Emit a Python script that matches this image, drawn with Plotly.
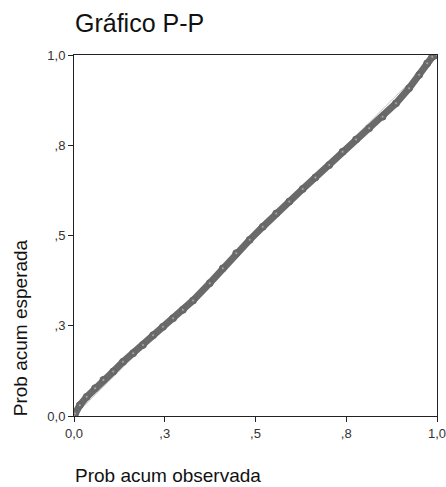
import plotly.graph_objects as go

# Observed cumulative probability (x) vs expected cumulative probability (y)
obs = [0.0, 0.003, 0.016, 0.035, 0.058, 0.081, 0.108, 0.135, 0.163, 0.190, 0.218,
       0.245, 0.273, 0.300, 0.328, 0.374, 0.410, 0.447, 0.484, 0.520,
       0.557, 0.593, 0.630, 0.665, 0.703, 0.740, 0.777, 0.813, 0.850,
       0.887, 0.923, 0.951, 0.973, 0.987, 1.0]
exp = [0.0, 0.007, 0.030, 0.053, 0.077, 0.100, 0.123, 0.150, 0.174, 0.197, 0.224,
       0.247, 0.271, 0.294, 0.320, 0.368, 0.409, 0.451, 0.488, 0.524,
       0.561, 0.594, 0.629, 0.661, 0.695, 0.732, 0.766, 0.797, 0.829,
       0.866, 0.908, 0.945, 0.977, 0.995, 1.0]

ref_line = [0.0, 1.0]
tick_vals = [0.0, 0.25, 0.5, 0.75, 1.0]
tick_text = ["0,0", ",3", ",5", ",8", "1,0"]

title_text = "Gráfico P-P"
x_title = "Prob acum observada"
y_title = "Prob acum esperada"

FONT = "Arial, 'Liberation Sans', sans-serif"

fig = go.Figure()
fig.add_trace(go.Scatter(x=ref_line, y=ref_line, mode="lines",
                         line=dict(color="#c8c8c8", width=1), hoverinfo="skip"))
fig.add_trace(go.Scatter(x=obs, y=exp, mode="lines+markers",
                         line=dict(color="#6a6a6a", width=7),
                         marker=dict(size=7, color="#6a6a6a",
                                     line=dict(color="#666666", width=1))))
fig.add_trace(go.Scatter(x=obs, y=exp, mode="markers",
                         marker=dict(size=2, color="#a8a8a8"), hoverinfo="skip"))

axis_common = dict(range=[0, 1], tickvals=tick_vals, ticktext=tick_text,
                   showgrid=False, zeroline=False, showline=True,
                   linecolor="#222222", linewidth=1, mirror=True,
                   ticks="outside", ticklen=5, tickcolor="#222222",
                   automargin=False, ticklabeloverflow="allow",
                   tickfont=dict(family=FONT, size=13, color="#333333"))

fig.update_layout(
    width=446, height=487,
    margin=dict(l=74, r=9, t=55, b=71),
    paper_bgcolor="white", plot_bgcolor="white",
    showlegend=False,
    xaxis=dict(**axis_common),
    yaxis=dict(**axis_common),
    annotations=[
        dict(text=title_text, xref="paper", yref="paper", x=-0.003, y=1.09,
             xanchor="left", yanchor="middle", showarrow=False,
             font=dict(family=FONT, size=25, color="#111111")),
        dict(text=x_title, xref="paper", yref="paper", x=-0.003, y=-0.165,
             xanchor="left", yanchor="middle", showarrow=False,
             font=dict(family=FONT, size=19, color="#111111")),
        dict(text=y_title, xref="paper", yref="paper", x=-0.149, y=-0.005,
             xanchor="center", yanchor="bottom", textangle=-90, showarrow=False,
             font=dict(family=FONT, size=19, color="#111111")),
    ],
)

fig.write_html(
    "out.html",
    config={"displayModeBar": False},
    post_script=("document.body.style.margin='0';"
                 "document.body.style.overflow='hidden';"
                 "document.documentElement.style.overflow='hidden';"),
)
